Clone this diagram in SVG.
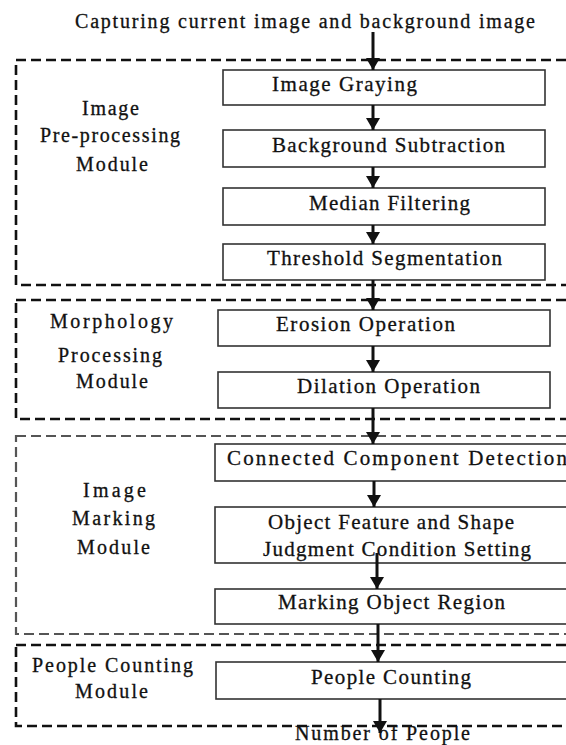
<svg xmlns="http://www.w3.org/2000/svg" width="566" height="745" viewBox="0 0 566 745">
<defs>
<style>
text{font-family:"Liberation Serif","Times New Roman",serif;font-size:21px;fill:#111;stroke:#111;stroke-width:0.3}
.lbl{font-size:20px}
.box{fill:#fff;stroke:#333;stroke-width:1.6}
.mod{fill:none;stroke:#111;stroke-width:2.6;stroke-dasharray:10 5}
.mod3{fill:none;stroke:#555;stroke-width:2.2;stroke-dasharray:10 5}
.arr{stroke:#111;stroke-width:3;fill:none;marker-end:url(#ah)}
</style>
<marker id="ah" markerUnits="userSpaceOnUse" markerWidth="12" markerHeight="14" refX="12" refY="7" orient="auto" viewBox="0 0 12 14">
<path d="M0,0 L12,7 L0,14 Z" fill="#111"/>
</marker>
</defs>
<rect width="566" height="745" fill="#fff"/>
<text id="title" class="lbl" x="75" y="28" textLength="460" lengthAdjust="spacing">Capturing current image and background image</text>

<g id="module1">
<rect class="mod" x="16" y="60" width="570" height="225"/>
<text class="lbl" x="82" y="115" textLength="57" lengthAdjust="spacing">Image</text>
<text class="lbl" x="40" y="142" textLength="140" lengthAdjust="spacing">Pre-processing</text>
<text class="lbl" x="76" y="171" textLength="72" lengthAdjust="spacing">Module</text>
</g>
<g id="module2">
<rect class="mod" x="16" y="300" width="570" height="119"/>
<text class="lbl" x="50" y="328" textLength="123" lengthAdjust="spacing">Morphology</text>
<text class="lbl" x="58" y="362" textLength="104" lengthAdjust="spacing">Processing</text>
<text class="lbl" x="76" y="388" textLength="72" lengthAdjust="spacing">Module</text>
</g>
<g id="module3">
<rect class="mod3" x="16" y="436" width="570" height="198"/>
<text class="lbl" x="83" y="497" textLength="63" lengthAdjust="spacing">Image</text>
<text class="lbl" x="72" y="525" textLength="83" lengthAdjust="spacing">Marking</text>
<text class="lbl" x="77" y="554" textLength="73" lengthAdjust="spacing">Module</text>
</g>
<g id="module4">
<rect class="mod" x="16" y="645" width="570" height="81"/>
<text class="lbl" x="32" y="672" textLength="161" lengthAdjust="spacing">People Counting</text>
<text class="lbl" x="75" y="698" textLength="73" lengthAdjust="spacing">Module</text>
</g>

<g id="n1"><rect class="box" x="223" y="70" width="322" height="35"/><text x="272" y="91" textLength="145" lengthAdjust="spacing">Image Graying</text></g>
<g id="n2"><rect class="box" x="223" y="130" width="322" height="37"/><text x="272" y="152" textLength="233" lengthAdjust="spacing">Background Subtraction</text></g>
<g id="n3"><rect class="box" x="223" y="188" width="322" height="37"/><text x="309" y="210" textLength="161" lengthAdjust="spacing">Median Filtering</text></g>
<g id="n4"><rect class="box" x="223" y="244" width="322" height="36"/><text x="267" y="265" textLength="235" lengthAdjust="spacing">Threshold Segmentation</text></g>
<g id="n5"><rect class="box" x="218" y="310" width="332" height="36"/><text x="276" y="331" textLength="179" lengthAdjust="spacing">Erosion Operation</text></g>
<g id="n6"><rect class="box" x="218" y="372" width="332" height="36"/><text x="297" y="393" textLength="183" lengthAdjust="spacing">Dilation Operation</text></g>
<g id="n7"><rect class="box" x="215" y="444" width="370" height="37"/><text x="227" y="465" textLength="340" lengthAdjust="spacing">Connected  Component  Detection</text></g>
<g id="n8"><rect class="box" x="215" y="507" width="370" height="56"/><text x="268" y="529" textLength="246" lengthAdjust="spacing">Object Feature and Shape</text><text x="263" y="556" textLength="268" lengthAdjust="spacing">Judgment Condition Setting</text></g>
<g id="n9"><rect class="box" x="215" y="589" width="370" height="35"/><text x="278" y="609" textLength="227" lengthAdjust="spacing">Marking Object Region</text></g>
<g id="n10"><rect class="box" x="216" y="662" width="370" height="37"/><text x="311" y="684" textLength="160" lengthAdjust="spacing">People Counting</text></g>
<text id="output" class="lbl" x="295" y="740" textLength="175" lengthAdjust="spacing">Number of People</text>

<g id="connectors">
<path class="arr" d="M373,32 V70"/>
<path class="arr" d="M373,105 V130"/>
<path class="arr" d="M373,167 V188"/>
<path class="arr" d="M373,225 V244"/>
<path class="arr" d="M373,280 V310"/>
<path class="arr" d="M373,346 V372"/>
<path class="arr" d="M373,408 V444"/>
<path class="arr" d="M374,481 V507"/>
<path class="arr" d="M377,553 V589"/>
<path class="arr" d="M378,624 V662"/>
<path class="arr" d="M380,699 V733"/>
</g>
</svg>
